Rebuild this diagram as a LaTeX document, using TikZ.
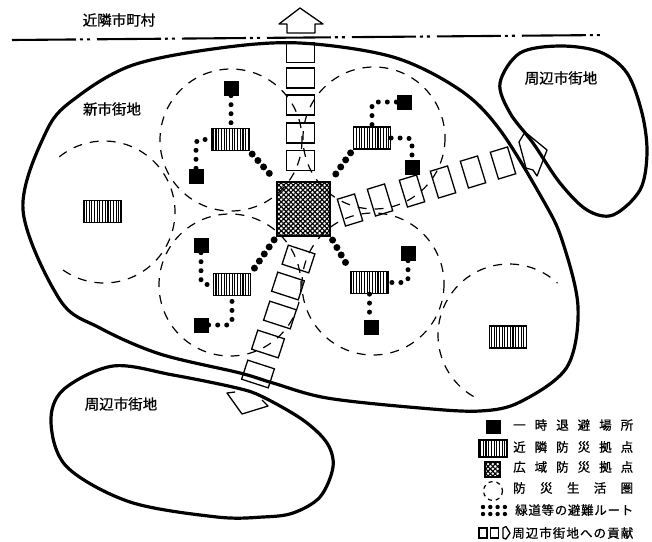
\documentclass[tikz,border=0pt]{standalone}
\usepackage{fontspec}
\setmainfont{Noto Sans CJK JP}
\newfontfamily\heavycjk{Noto Sans CJK JP}[RawFeature={embolden=0.8}]
\usetikzlibrary{patterns.meta}
\tikzset{
  blob/.style={line width=3.2pt,black},
  zone/.style={line width=1.2pt,dash pattern=on 9pt off 8pt},
  shelter/.style={fill=black,draw=none,minimum size=15pt,inner sep=0pt},
  hub/.style={draw=black,line width=1.2pt,minimum width=37pt,minimum height=22pt,inner sep=0pt,
    pattern={Lines[angle=90,distance=2.7pt,line width=1.1pt]}},
  core/.style={draw=black,line width=1.3pt,minimum width=53pt,minimum height=54pt,inner sep=0pt,
    preaction={pattern={Lines[angle=45,distance=3.4pt,line width=1.2pt]}},
    pattern={Lines[angle=-45,distance=3.4pt,line width=1.2pt]}},
  cell/.style={draw=black,line width=1.3pt,minimum width=28pt,minimum height=20pt,inner sep=0pt},
  smalldots/.style={line width=5pt,line cap=round,dash pattern=on 0pt off 9pt,rounded corners=4pt},
  bigdots/.style={line width=7pt,line cap=round,dash pattern=on 0pt off 8.6pt},
  outarrow/.style={draw=black,line width=1.3pt,fill=white,line join=round},
  place/.style={font=\heavycjk\fontsize{14.5}{15}\selectfont,inner sep=0pt},
  legend/.style={font=\heavycjk\fontsize{12.5}{13}\selectfont,inner sep=0pt,anchor=west},
}
\begin{document}
\begin{tikzpicture}[x=1pt,y=-1pt]
\useasboundingbox (0,0) rectangle (652,541);
% zones
\draw[zone] (231,140) circle (71);
\draw[zone] (374,138) circle (71);
\draw[zone] (230,285) circle (71);
\draw[zone] (373,284) circle (71);
\draw[zone] plot[domain=-129:128,samples=90,smooth] ({104+71*cos(\x)},{212+71*sin(\x)});
\draw[zone] plot[domain=-240:-47,samples=70,smooth] ({509+71*cos(\x)},{335+71*sin(\x)});
% boundary line
\coordinate (lineL) at (12,40);
\coordinate (lineR) at (606,35);
\draw[line width=2.1pt,dash pattern=on 64pt off 4pt on 3pt off 4pt on 3pt off 7pt] (lineL) -- (lineR);
% outward arrows
\draw[outarrow] (287,33) -- (287,24) -- (279,24) -- (300,8) -- (323,24) -- (315,24) -- (315,33) -- cycle;
\draw[outarrow] (519,142) -- (525,132) -- (547,150) -- (537,176) -- (533,170) -- (526,168) -- cycle;
\draw[outarrow] (235,392) -- (227,393) -- (242,414) -- (268,406) -- (262,400);
% blobs
\draw[blob] plot[smooth cycle,tension=0.55] coordinates {(220,48) (300,43) (393,57) (460,90) (500,130) (543,200) (562,240) (578,307) (567,367) (520,402) (480,411) (420,408) (327,398) (273,383) (240,373) (160,354) (100,328) (60,300) (23,210) (47,130) (77,97) (133,65)};
\draw[blob] plot[smooth cycle,tension=0.55] coordinates {(500,83) (520,53) (560,46) (600,52) (627,73) (642,113) (647,153) (640,190) (613,215) (587,210) (560,183) (533,143) (510,113)};
\draw[blob] plot[smooth cycle,tension=0.55] coordinates {(113,366) (173,375) (237,388) (263,397) (303,420) (327,443) (333,467) (320,497) (293,513) (263,517) (217,517) (130,502) (67,467) (51,423) (63,390)};
% cells north
\node[cell] (n1) at (300.5,52.5) {};
\node[cell] (n2) at (300.5,78) {};
\node[cell] (n3) at (300.5,105) {};
\node[cell] (n4) at (300.5,133) {};
\node[cell] (n5) at (300.5,160.5) {};
% cells east
\foreach \n/\x/\y in {e1/350/210,e2/380/200,e3/412/191,e4/443/182,e5/473/172,e6/503/163}
  \node[cell,minimum width=18pt,minimum height=28pt,rotate=17] (\n) at (\x,\y) {};
% cells south-west
\foreach \n/\x/\y in {s1/298.5/259,s2/288/286,s3/280/315,s4/268/344,s5/258/374}
  \node[cell,rotate=-18] (\n) at (\x,\y) {};
% core and hubs
\node[core] (core) at (303.5,209) {};
\node[hub] (hubTL) at (230.5,139.5) {};
\node[hub] (hubTR) at (372,138) {};
\node[hub] (hubBL) at (232,284.5) {};
\node[hub] (hubBR) at (369.5,282.5) {};
\node[hub] (hubW) at (102.5,211.5) {};
\node[hub] (hubE) at (508,337) {};
% shelters
\node[shelter] (a1) at (231,88) {};
\node[shelter] (a2) at (196,176) {};
\node[shelter] (b1) at (404,102) {};
\node[shelter] (b2) at (412,167) {};
\node[shelter] (c1) at (201,245) {};
\node[shelter] (c2) at (201,325) {};
\node[shelter] (d1) at (408,253) {};
\node[shelter] (d2) at (371,327) {};
% small routes
\draw[smalldots] (a1.south) -- (hubTL.north -| a1.south);
\draw[smalldots] (a2.north) |- (hubTL.west);
\draw[smalldots] (b1.west) -| (hubTR.north);
\draw[smalldots] (hubTR.east) -| (b2.north);
\draw[smalldots] (c1.south) |- (hubBL.west);
\draw[smalldots] (c2.east) -| (hubBL.south);
\draw[smalldots] (d1.south) |- (hubBR.east);
\draw[smalldots] (hubBR.south) -- (d2.north -| hubBR.south);
% large routes
\draw[bigdots,shorten >=4pt,shorten <=4pt] (hubTL.south east) -- (core.north west);
\draw[bigdots,shorten >=4pt,shorten <=4pt] (hubTR.south west) -- (core.north east);
\draw[bigdots,shorten >=4pt,shorten <=4pt] (core.south west) -- (hubBL.north east);
\draw[bigdots,shorten >=4pt,shorten <=4pt] (core.south east) -- (hubBR.north west);
% place names
\node[place] (t1) at (119,20) {近隣市町村};
\node[place] (t2) at (112,109) {新市街地};
\node[place] (t3) at (561,78) {周辺市街地};
\node[place] (t4) at (121,404) {周辺市街地};
% legend
\node[shelter,minimum size=14.5pt] (l1) at (493.5,427) {};
\node[hub,minimum width=28pt,minimum height=17pt] (l2) at (493,448.5) {};
\node[core,minimum width=15pt,minimum height=15pt] (l3) at (492.5,469.5) {};
\draw[line width=1.2pt,dash pattern=on 4pt off 4pt] (493,491) circle (9.5);
\coordinate (p1) at (483,507); \coordinate (p2) at (505,507);
\coordinate (p3) at (483,514); \coordinate (p4) at (505,514);
\draw[line width=4.4pt,line cap=round,dash pattern=on 0pt off 7.3pt] (p1) -- (p2);
\draw[line width=4.4pt,line cap=round,dash pattern=on 0pt off 7.3pt] (p3) -- (p4);
\node[cell,minimum width=8pt,minimum height=10pt] (l5) at (483,533) {};
\node[cell,minimum width=8pt,minimum height=10pt] (l6) at (494.5,533) {};
\draw[outarrow] (503,528) -- (506,526.5) -- (510,533) -- (506,539) -- (503,538) -- cycle;
\node[legend] (tx1) at (513,425) {\makebox[120pt][s]{一\hfil 時\hfil 退\hfil 避\hfil 場\hfil 所}};
\node[legend] (tx2) at (513,447) {\makebox[120pt][s]{近\hfil 隣\hfil 防\hfil 災\hfil 拠\hfil 点}};
\node[legend] (tx3) at (513,467) {\makebox[120pt][s]{広\hfil 域\hfil 防\hfil 災\hfil 拠\hfil 点}};
\node[legend] (tx4) at (513,488) {\makebox[120pt][s]{防\hfil 災\hfil 生\hfil 活\hfil 圏}};
\node[legend] (tx5) at (515,510) {\makebox[118pt][s]{緑\hfil 道\hfil 等\hfil の\hfil 避\hfil 難\hfil ル\hfil ー\hfil ト}};
\node[legend] (tx6) at (512,533) {\makebox[121pt][s]{周\hfil 辺\hfil 市\hfil 街\hfil 地\hfil へ\hfil の\hfil 貢\hfil 献}};
\end{tikzpicture}
\end{document}
